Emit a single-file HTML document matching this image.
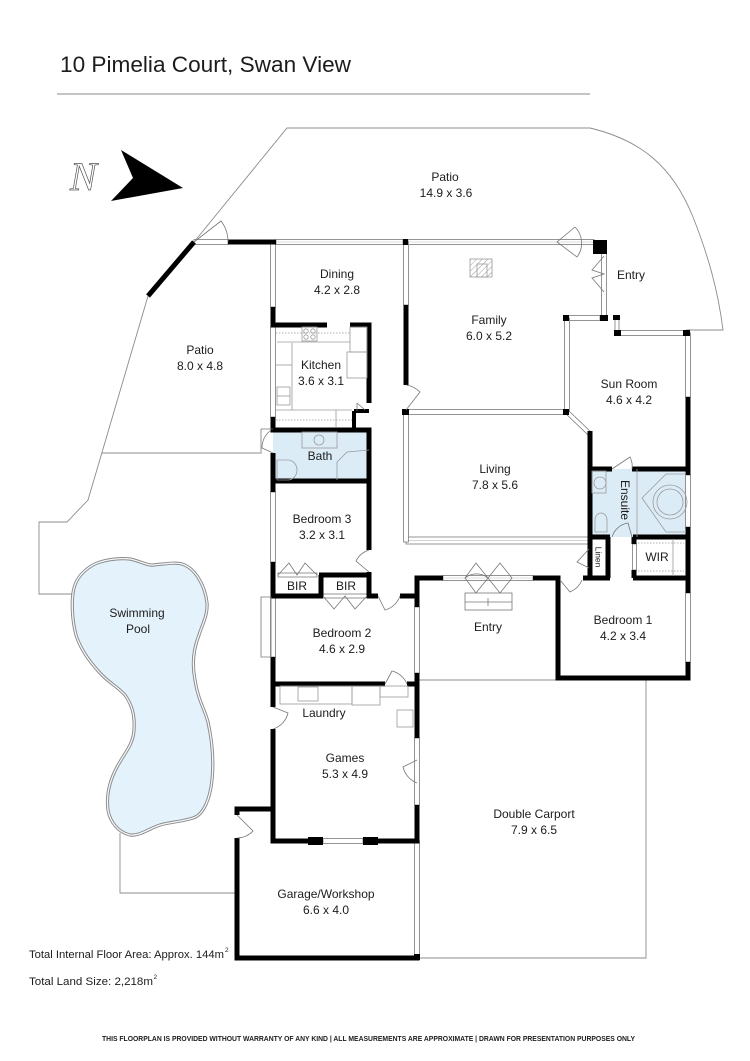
<!DOCTYPE html>
<html><head><meta charset="utf-8"><style>
html,body{margin:0;padding:0;background:#fff;}
svg{display:block;}
text{font-family:"Liberation Sans",Arial,sans-serif;fill:#1c1c1c;}
.o{fill:none;stroke:#8c8c8c;stroke-width:0.9;}
.wl{fill:none;stroke:#000;stroke-width:5;}
.w{fill:#fff;stroke:#7a7a7a;stroke-width:0.8;}
.d{fill:none;stroke:#777;stroke-width:0.8;}
.f{fill:none;stroke:#9a9a9a;stroke-width:0.8;}
.lb{font-size:12px;text-anchor:middle;}
</style></head><body>
<svg width="750" height="1061" viewBox="0 0 750 1061" xmlns="http://www.w3.org/2000/svg">
<defs>
<pattern id="hatch" width="4" height="4" patternUnits="userSpaceOnUse" patternTransform="rotate(45)">
<line x1="0" y1="0" x2="0" y2="4" stroke="#999" stroke-width="1"/>
</pattern>
</defs>

<!-- Title -->
<text x="60" y="72" font-size="22" textLength="291" lengthAdjust="spacingAndGlyphs">10 Pimelia Court, Swan View</text>
<line x1="57" y1="94" x2="590" y2="94" stroke="#b0b0b0" stroke-width="1.6"/>

<!-- Compass -->
<text x="70" y="190" font-size="40" style="font-family:'Liberation Serif',serif;font-style:italic;fill:none;stroke:#555;stroke-width:0.7;">N</text>
<polygon points="121,150 183,188 111,201 133,178" fill="#000"/>

<!-- Outdoor outlines -->
<path class="o" d="M148,296 L194,242 L287,128 L590,128 C640,140 672,165 693,217 C708,255 718,290 723,330 L686,330"/>
<path class="o" d="M148,296 L88,500 L67,522 L39,522 L39,594 L73,594"/>
<path class="o" d="M102,453 L262,453"/>
<path class="o" d="M120,833 L120,893 L237,893"/>
<path class="o" d="M417,680 L557,680"/>
<path class="o" d="M646,678 L646,958 L417,958"/>

<!-- Pool -->
<path d="M130,559 C140,561 148,566 153,565 C165,564 175,562 182,564 C195,568 205,585 207,603 C208,615 202,625 199,635 C193,650 192,665 195,680 C198,700 205,710 208,722 C212,740 214,760 212,780 C210,800 203,815 193,818 C180,822 170,822 160,825 C148,829 140,836 130,835 C118,832 110,822 108,810 C106,795 110,780 117,767 C125,752 133,745 134,730 C135,715 132,705 125,695 C118,687 108,682 100,673 C88,660 80,648 76,635 C72,620 71,600 74,588 C77,575 90,565 100,562 C110,559 120,558 130,559 Z" fill="#e4f2fb" stroke="#8a8a8a" stroke-width="3.2"/>
<path d="M130,559 C140,561 148,566 153,565 C165,564 175,562 182,564 C195,568 205,585 207,603 C208,615 202,625 199,635 C193,650 192,665 195,680 C198,700 205,710 208,722 C212,740 214,760 212,780 C210,800 203,815 193,818 C180,822 170,822 160,825 C148,829 140,836 130,835 C118,832 110,822 108,810 C106,795 110,780 117,767 C125,752 133,745 134,730 C135,715 132,705 125,695 C118,687 108,682 100,673 C88,660 80,648 76,635 C72,620 71,600 74,588 C77,575 90,565 100,562 C110,559 120,558 130,559 Z" fill="none" stroke="#f4f8fb" stroke-width="1.3"/>

<!-- Wet area fills -->
<rect x="273" y="430" width="96" height="51" fill="#dcecf7"/>
<rect x="590" y="469" width="98" height="68" fill="#dcecf7"/>

<!-- Windows horizontal -->
<g>
<rect class="w" x="194" y="239.5" width="34" height="5"/>
<rect class="w" x="276" y="239.5" width="127" height="5"/>
<rect class="w" x="408" y="239.5" width="186" height="5"/>
<rect class="w" x="567" y="315.5" width="33" height="5"/>
<rect class="w" x="618" y="330.5" width="66" height="5"/>
<rect class="w" x="408" y="409.5" width="156" height="5"/>
<rect class="w" x="443" y="575.5" width="90" height="5"/>
<rect class="w" x="323" y="838.5" width="40" height="5"/>
<rect class="w" x="406" y="537" width="182" height="7"/>
<line x1="406" y1="540.5" x2="588" y2="540.5" stroke="#aaa" stroke-width="0.6"/>
<rect class="w" x="278" y="573" width="39" height="4"/>
<rect class="w" x="323" y="594" width="44" height="4"/>
<line x1="276" y1="242" x2="403" y2="242" stroke="#bbb" stroke-width="0.5"/>
<line x1="408" y1="242" x2="594" y2="242" stroke="#bbb" stroke-width="0.5"/>
<line x1="443" y1="578" x2="533" y2="578" stroke="#bbb" stroke-width="0.5"/>
</g>
<!-- Windows vertical -->
<g>
<rect class="w" x="270.5" y="242" width="5" height="65"/>
<rect class="w" x="270.5" y="327" width="5" height="90"/>
<rect class="w" x="270.5" y="492" width="5" height="70"/>
<rect class="w" x="270.5" y="597" width="5" height="60"/>
<rect class="w" x="403.5" y="242" width="5" height="63"/>
<rect class="w" x="403.5" y="412" width="5" height="130"/>
<rect class="w" x="414.5" y="607" width="5" height="66"/>
<rect class="w" x="414.5" y="738" width="5" height="67"/>
<rect class="w" x="414.5" y="841" width="5" height="115"/>
<rect class="w" x="564.5" y="318" width="5" height="94"/>
<rect class="w" x="601.5" y="253" width="5" height="65"/>
<rect class="w" x="685.5" y="333" width="5" height="64"/>
<rect class="w" x="685.5" y="475" width="5" height="52"/>
<rect class="w" x="685.5" y="593" width="5" height="69"/>
<rect class="w" x="632.5" y="544" width="4" height="26"/>
<rect class="w" x="615" y="317" width="4" height="16"/>
</g>
<!-- diagonal window -->
<line x1="567" y1="412" x2="589" y2="433" stroke="#777" stroke-width="5"/>
<line x1="567" y1="412" x2="589" y2="433" stroke="#fff" stroke-width="3.4"/>

<!-- Walls -->
<g class="wl">
<path d="M148,296 L194,242"/>
<path d="M228,242 L276,242"/>
<path d="M273,307 L273,327"/>
<path d="M270.5,325 L327,325 M350,325 L371.5,325"/>
<path d="M369,325 L369,403"/>
<path d="M273,417 L273,432"/>
<path d="M270.5,430 L371.5,430"/>
<path d="M273,453 L273,492"/>
<path d="M369,430 L369,550"/>
<path d="M273,481 L369,481"/>
<path d="M273,562 L273,597"/>
<path d="M369,572 L369,598"/>
<path d="M319,575 L371.5,575"/>
<path d="M321,575 L321,597"/>
<path d="M270.5,596 L323,596 M367,596 L378,596 M400,596 L419.5,596"/>
<path d="M273,657 L273,686"/>
<path d="M417,576 L417,607 M417,673 L417,738 M417,805 L417,843"/>
<path d="M414.5,578 L443,578 M533,578 L560.5,578"/>
<path d="M558,576 L558,680"/>
<path d="M555.5,678 L690.5,678"/>
<path d="M688,576 L688,593 M688,662 L688,680"/>
<path d="M583,578 L610,578 M633,578 L690.5,578"/>
<path d="M270.5,684 L385,684 M407,684 L419.5,684"/>
<path d="M273,684 L273,707 M273,729 L273,843"/>
<path d="M270.5,841 L323,841 M363,841 L419.5,841"/>
<path d="M234.5,809 L275.5,809"/>
<path d="M237,807 L237,815 M237,838 L237,960"/>
<path d="M234.5,958 L419.5,958"/>
<path d="M587.5,469 L612,469 M632,469 L690.5,469"/>
<path d="M590,431 L590,579"/>
<path d="M688,397 L688,475 M688,527 L688,580"/>
<path d="M587.5,537 L610,537 M633,537 L690.5,537"/>
<path d="M608,537 L608,578"/>
<path d="M634,537 L634,544 M634,570 L634,578"/>
<path d="M406,305 L406,385"/>
</g>
<g stroke="#000" stroke-width="4" fill="none">
<path d="M354,411 L354,430 M354,411 L369,411"/>
</g>
<!-- pillars -->
<g fill="#000">
<rect x="403" y="239" width="5" height="6"/>
<rect x="593" y="240" width="14" height="14"/>
<rect x="563" y="315" width="6" height="6"/>
<rect x="600" y="315" width="8" height="6"/>
<rect x="613" y="315" width="7" height="5"/>
<rect x="614" y="330" width="7" height="6"/>
<rect x="683" y="330" width="7" height="6"/>
<rect x="402" y="409" width="7" height="6"/>
<rect x="563" y="409" width="6" height="6"/>
<rect x="308" y="837" width="15" height="8"/>
<rect x="363" y="837" width="15" height="8"/>
<rect x="414" y="954" width="6" height="6"/>
</g>

<!-- Fireplace -->
<rect x="470" y="259" width="22" height="18" fill="url(#hatch)" stroke="#999" stroke-width="0.8"/>
<rect x="477" y="264" width="10" height="13" fill="none" stroke="#999" stroke-width="0.8"/>

<!-- Kitchen fixtures -->
<g class="f">
<path d="M277,342 L350,342"/>
<path d="M276,333 L350,333" stroke-dasharray="1.5,1.5"/>
<rect x="302" y="327" width="15" height="14"/>
<circle cx="306" cy="331" r="2.2"/><circle cx="313" cy="331" r="2.2"/>
<circle cx="306" cy="337" r="2.2"/><circle cx="313" cy="337" r="2.2"/>
<rect x="350" y="327" width="17" height="25"/>
<rect x="347" y="352" width="20" height="26"/>
<path d="M292,343 L292,410"/>
<path d="M276,365 L292,365"/>
<rect x="277" y="387" width="13" height="18"/>
<path d="M277,396 L290,396"/>
<path d="M276,410 L352,410"/>
<path d="M276,420 L352,420" stroke-dasharray="1.5,1.5"/>
<path d="M336,410 L336,427"/>
</g>
<!-- Bath fixtures -->
<g class="f">
<rect x="302" y="432" width="35" height="16"/>
<circle cx="319" cy="440" r="5"/>
<path d="M277,460 L288,460 A9,10 0 0 1 288,480 L277,480 Z"/>
<path d="M369,450 L347,452 L337,462 L337,480"/>
</g>
<!-- Ensuite fixtures -->
<g class="f">
<rect x="592" y="471" width="14" height="22"/>
<circle cx="600" cy="483" r="6"/>
<path d="M595,532 L595,520 A6,7 0 0 1 607,520 L607,532 Z"/>
<path d="M637,469 L637,537"/>
<path d="M686,474 L666,474 L642,498 L666,532 L686,532"/>
<circle cx="670" cy="502" r="17"/>
<circle cx="670" cy="502" r="13"/>
</g>
<!-- WIR fixtures -->
<g class="f">
<path d="M638,543 L684,543 M638,571 L684,571" stroke-dasharray="1.5,1.5"/>
<path d="M673,539 L673,576"/>
</g>
<!-- Laundry fixtures -->
<g class="f">
<rect x="280" y="686" width="72" height="18"/>
<rect x="298" y="687" width="20" height="14"/>
<rect x="352" y="686" width="28" height="19"/>
<rect x="380" y="686" width="28" height="11"/>
<rect x="397" y="710" width="16" height="17"/>
</g>

<!-- Doors -->
<g class="d">
<path d="M194,242 L221,221 A34,34 0 0 1 228,242"/>
<path d="M575,227 L557,242 L577,257 A23,23 0 0 0 575,227"/>
<path d="M604,256 L592,270 L604,274 L592,278 L604,292"/>
<path d="M406,410 L420,392 A25,25 0 0 0 406,385"/>
<path d="M261,429 L273,429 M261,429 L261,452 M273,453 L262,448 A22,22 0 0 1 270,431"/>
<path d="M357,403 L365,410 M357,403 L357,411"/>
<path d="M369,572 L356,561 A22,22 0 0 1 369,550"/>
<path d="M278,575 L289,563 L297,575 L305,563 L317,575"/>
<path d="M323,596 L334,609 L345,596 L355,609 L367,596"/>
<path d="M378,596 L385,610 A22,22 0 0 0 400,596"/>
<path d="M465,578 L476,563 L488,578 L476,593 Z M465,578 A18,18 0 0 1 488,578"/>
<path d="M488,578 L500,563 L512,578 L500,593 Z"/>
<rect x="465" y="593" width="47" height="17"/>
<path d="M465,602 L512,602 M488,598 L488,606"/>
<path d="M560,580 L570,592 A22,22 0 0 0 582,580"/>
<path d="M589,549 L577,562 L589,568"/>
<path d="M612,469 L630,457 A20,20 0 0 1 632,469"/>
<path d="M632,537 L628,523 A20,20 0 0 0 612,537"/>
<path d="M385,684 L392,671 A22,22 0 0 1 407,684"/>
<path d="M273,707 L288,713 A22,22 0 0 1 273,729"/>
<path d="M417,760 L403,767 A23,23 0 0 0 417,783"/>
<path d="M237,815 L253,831 A23,23 0 0 1 237,838"/>
<path d="M261,597 L271,597 L271,657 L261,657 Z"/>
</g>

<!-- Labels -->
<g>
<text class="lb" x="445" y="181">Patio</text>
<text class="lb" x="446" y="197">14.9 x 3.6</text>
<text class="lb" x="631" y="279">Entry</text>
<text class="lb" x="200" y="354">Patio</text>
<text class="lb" x="200" y="370">8.0 x 4.8</text>
<text class="lb" x="337" y="278">Dining</text>
<text class="lb" x="337" y="294">4.2 x 2.8</text>
<text class="lb" x="489" y="324">Family</text>
<text class="lb" x="489" y="340">6.0 x 5.2</text>
<text class="lb" x="629" y="388">Sun Room</text>
<text class="lb" x="629" y="404">4.6 x 4.2</text>
<text class="lb" x="321" y="369">Kitchen</text>
<text class="lb" x="321" y="385">3.6 x 3.1</text>
<text class="lb" x="320" y="460">Bath</text>
<text class="lb" x="495" y="473">Living</text>
<text class="lb" x="495" y="489">7.8 x 5.6</text>
<text class="lb" x="322" y="523">Bedroom 3</text>
<text class="lb" x="322" y="539">3.2 x 3.1</text>
<text class="lb" x="297" y="590">BIR</text>
<text class="lb" x="346" y="590">BIR</text>
<text class="lb" x="342" y="637">Bedroom 2</text>
<text class="lb" x="342" y="653">4.6 x 2.9</text>
<text class="lb" x="488" y="631">Entry</text>
<text class="lb" x="0" y="0" transform="translate(621,500) rotate(90)">Ensuite</text>
<text x="0" y="0" font-size="8.5" text-anchor="middle" transform="translate(595.5,557) rotate(90)">Linen</text>
<text class="lb" x="657" y="561">WIR</text>
<text class="lb" x="623" y="624">Bedroom 1</text>
<text class="lb" x="623" y="640">4.2 x 3.4</text>
<text class="lb" x="137" y="617">Swimming</text>
<text class="lb" x="138" y="633">Pool</text>
<text class="lb" x="324" y="717">Laundry</text>
<text class="lb" x="345" y="762">Games</text>
<text class="lb" x="345" y="778">5.3 x 4.9</text>
<text class="lb" x="534" y="818">Double Carport</text>
<text class="lb" x="534" y="834">7.9 x 6.5</text>
<text class="lb" x="326" y="898">Garage/Workshop</text>
<text class="lb" x="326" y="914">6.6 x 4.0</text>
</g>

<!-- Footer info -->
<text x="29" y="958" font-size="11" textLength="195" lengthAdjust="spacingAndGlyphs">Total Internal Floor Area: Approx. 144m</text>
<text x="225" y="952" font-size="6.5">2</text>
<text x="29" y="985" font-size="11" textLength="124" lengthAdjust="spacingAndGlyphs">Total Land Size: 2,218m</text>
<text x="153.5" y="979" font-size="6.5">2</text>
<text x="102" y="1041" font-size="7.5" font-weight="bold" fill="#333" textLength="533" lengthAdjust="spacingAndGlyphs">THIS FLOORPLAN IS PROVIDED WITHOUT WARRANTY OF ANY KIND  |  ALL MEASUREMENTS ARE APPROXIMATE  |  DRAWN FOR PRESENTATION PURPOSES ONLY</text>
</svg>
</body></html>
